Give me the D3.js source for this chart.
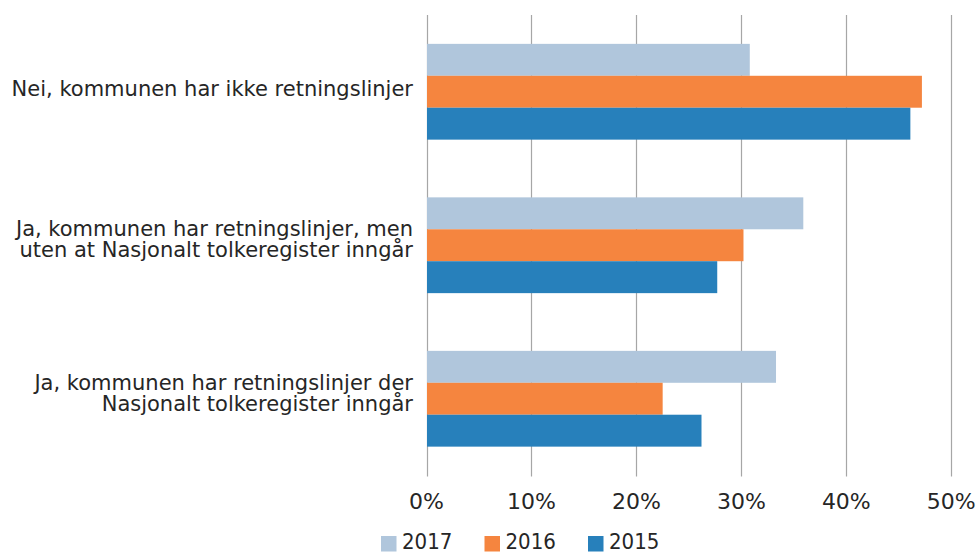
<!DOCTYPE html>
<html>
<head>
<meta charset="utf-8">
<script src="https://cdn.jsdelivr.net/npm/d3@7"></script>
<style>
  html, body { margin: 0; padding: 0; background: #fff; }
  svg { display: block; }
  text { font-family: "DejaVu Sans", sans-serif; fill: #262626; }
  .legend text { font-family: "DejaVu Sans Condensed", "DejaVu Sans", sans-serif; }
</style>
</head>
<body>
<svg id="chart" width="979" height="554"></svg>
<script>
// ---- data ----
const categories = [
  "Nei, kommunen har ikke retningslinjer",
  "Ja, kommunen har retningslinjer, men uten at Nasjonalt tolkeregister inngår",
  "Ja, kommunen har retningslinjer der Nasjonalt tolkeregister inngår"
];
const categoryLines = [
  ["Nei, kommunen har ikke retningslinjer"],
  ["Ja, kommunen har retningslinjer, men", "uten at Nasjonalt tolkeregister inngår"],
  ["Ja, kommunen har retningslinjer der", "Nasjonalt tolkeregister inngår"]
];
const seriesNames = ["2017", "2016", "2015"];
const values2017 = [30.8, 35.9, 33.3];
const values2016 = [47.2, 30.2, 22.5];
const values2015 = [46.1, 27.7, 26.2];
const tickValues = [0, 10, 20, 30, 40, 50];
const tickLabels = ["0%", "10%", "20%", "30%", "40%", "50%"];
const seriesColors = ["#b0c6dc", "#f5853f", "#2780bb"];

const seriesValues = [values2017, values2016, values2015];

// ---- layout ----
const svg = d3.select("#chart");
const plot = { left: 426.5, right: 951.3, top: 15, bottom: 475.5 };

const x = d3.scaleLinear().domain([0, 50]).range([plot.left, plot.right]);
const y = d3.scaleBand().domain(categories).range([plot.top, plot.bottom])
  .paddingInner(0.376).paddingOuter(0.188);
const ySub = d3.scaleBand().domain(seriesNames).range([0, y.bandwidth()]).padding(0);
const color = d3.scaleOrdinal().domain(seriesNames).range(seriesColors);

// gridlines
svg.append("g").selectAll("line").data(tickValues).join("line")
  .attr("x1", d => Math.round(x(d)) + 0.5).attr("x2", d => Math.round(x(d)) + 0.5)
  .attr("y1", plot.top).attr("y2", plot.bottom + 1)
  .attr("stroke", "#a6a6a6").attr("stroke-width", 1.2);

// bars
const groups = svg.append("g").selectAll("g").data(categories).join("g")
  .attr("transform", d => `translate(0,${y(d)})`);
groups.selectAll("rect")
  .data((d, i) => seriesNames.map((s, j) => ({ s, v: seriesValues[j][i] })))
  .join("rect")
  .attr("x", x(0) + 0.5)
  .attr("y", d => ySub(d.s))
  .attr("width", d => x(d.v) - x(0) - 0.5)
  .attr("height", ySub.bandwidth())
  .attr("fill", d => color(d.s));

// x tick labels
svg.append("g").selectAll("text").data(tickValues).join("text")
  .attr("x", d => x(d))
  .attr("y", 508.5)
  .attr("text-anchor", "middle")
  .attr("font-size", 22)
  .text((d, i) => tickLabels[i]);

// category labels
const lineH = 21;
svg.append("g").selectAll("text").data(categories).join("text")
  .attr("text-anchor", "end")
  .attr("font-size", 21)
  .each(function (d, i) {
    const lines = categoryLines[i];
    const c = y(d) + y.bandwidth() / 2;
    const n = lines.length;
    const base = n === 1 ? c + 4.5 : c + 1.5 - (n - 1) / 2 * lineH;
    d3.select(this).selectAll("tspan").data(lines).join("tspan")
      .attr("x", plot.left - 13.5)
      .attr("y", (l, k) => base + k * lineH)
      .text(l => l);
  });

// legend
const legend = svg.append("g").attr("class", "legend").selectAll("g").data(seriesNames).join("g")
  .attr("transform", (d, i) => `translate(${381 + i * 103.5},0)`);
legend.append("rect")
  .attr("x", 0).attr("y", 536).attr("width", 15.5).attr("height", 15.5)
  .attr("fill", d => color(d));
legend.append("text")
  .attr("x", 21).attr("y", 549)
  .attr("font-size", 22)
  .text(d => d);
</script>
</body>
</html>
